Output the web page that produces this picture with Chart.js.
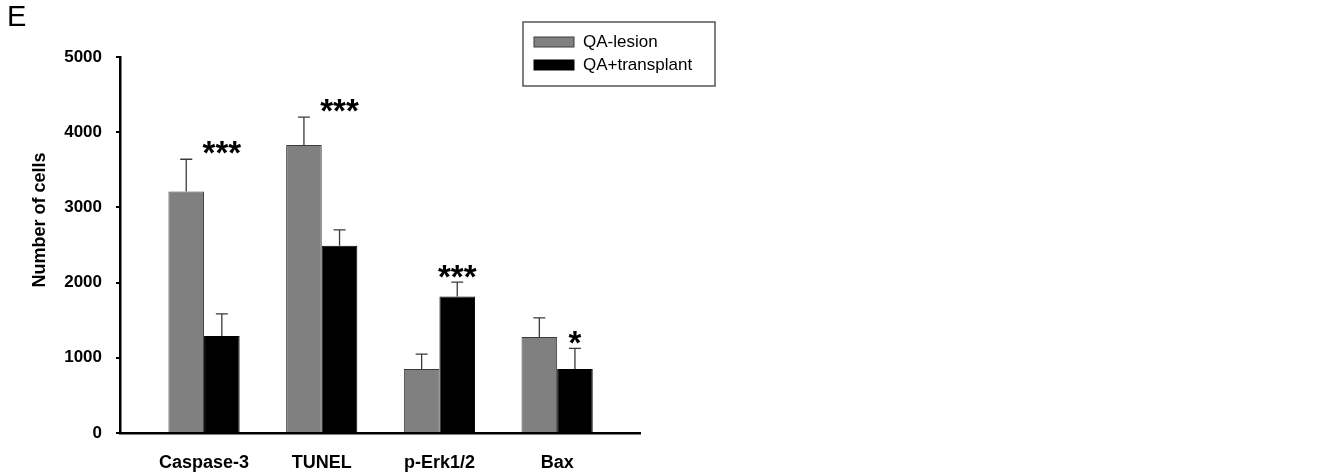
<!DOCTYPE html>
<html>
<head>
<meta charset="utf-8">
<script src="https://cdn.jsdelivr.net/npm/chart.js@4.4.1/dist/chart.umd.min.js"></script>
<style>
  html, body { margin: 0; padding: 0; background: #fff; }
  #wrap { width: 1324px; height: 475px; }
</style>
</head>
<body>
<div id="wrap"><canvas id="cellsChart" width="1324" height="475"></canvas></div>
<script>
'use strict';

// data
var categories = ['Caspase-3', 'TUNEL', 'p-Erk1/2', 'Bax'];
var lesion = [3210, 3830, 850, 1275];
var lesionErr = [430, 370, 200, 255];
var transplant = [1290, 2490, 1815, 850];
var transplantErr = [295, 210, 190, 275];
var stars = ['***', '***', '***', '*'];
var starLevel = [3790, 4350, 2145, 1265];
var yTicks = [0, 1000, 2000, 3000, 4000, 5000];

var FONT = "'Liberation Sans', Arial, sans-serif";

function indexed(arr) {
    return arr.map(function (v, i) { return { x: i, y: v }; });
}

// error bars, stars, panel letter, axis title and boxed legend
var extras = {
    id: 'extras',
    afterDatasetsDraw: function (chart) {
        var ctx = chart.ctx;
        var y = chart.scales.y;
        var errs = [lesionErr, transplantErr];
        ctx.save();
        ctx.strokeStyle = '#3a3a3a';
        ctx.lineWidth = 1.3;
        chart.data.datasets.forEach(function (ds, d) {
            chart.getDatasetMeta(d).data.forEach(function (bar, i) {
                var top = y.getPixelForValue(ds.data[i].y + errs[d][i]);
                ctx.beginPath();
                ctx.moveTo(bar.x, bar.y);
                ctx.lineTo(bar.x, top);
                ctx.moveTo(bar.x - 6, top);
                ctx.lineTo(bar.x + 6, top);
                ctx.stroke();
            });
        });

        // significance stars over the transplant bars
        ctx.fillStyle = '#000';
        ctx.font = 'bold 33px ' + FONT;
        ctx.textAlign = 'center';
        ctx.textBaseline = 'alphabetic';
        var black = chart.getDatasetMeta(1).data;
        stars.forEach(function (s, i) {
            var m = ctx.measureText(s);
            var yc = y.getPixelForValue(starLevel[i]);
            var base = yc - (m.actualBoundingBoxDescent - m.actualBoundingBoxAscent) / 2;
            ctx.fillText(s, black[i].x, base);
        });

        // panel letter
        ctx.textAlign = 'left';
        ctx.font = '29px ' + FONT;
        ctx.fillText('E', 7, 26);

        // y axis title
        ctx.save();
        ctx.translate(40, 220);
        ctx.rotate(-Math.PI / 2);
        ctx.textAlign = 'center';
        ctx.textBaseline = 'middle';
        ctx.font = 'bold 18px ' + FONT;
        ctx.fillText('Number of cells', 0, 0);
        ctx.restore();

        // legend
        var lx = 523, ly = 22, lw = 192, lh = 64;
        ctx.lineWidth = 1.5;
        ctx.strokeStyle = '#555';
        ctx.strokeRect(lx, ly, lw, lh);
        ctx.font = '17px ' + FONT;
        ctx.textBaseline = 'middle';
        chart.data.datasets.forEach(function (ds, d) {
            var sy = ly + 15 + d * 23;
            ctx.fillStyle = ds.backgroundColor;
            ctx.fillRect(lx + 11, sy, 40, 10);
            ctx.lineWidth = 1;
            ctx.strokeStyle = ds.borderColor;
            ctx.strokeRect(lx + 11, sy, 40, 10);
            ctx.fillStyle = '#000';
            ctx.fillText(ds.label, lx + 60, sy + 5.5);
        });
        ctx.restore();
    }
};

var ctx1 = document.getElementById('cellsChart').getContext('2d');
var chart1 = new Chart(ctx1, {
    type: 'bar',
    data: {
        datasets: [{
            label: 'QA-lesion',
            data: indexed(lesion),
            backgroundColor: '#808080',
            borderColor: '#3c3c3c',
            borderWidth: 1,
            barPercentage: 1,
            categoryPercentage: 0.605
        }, {
            label: 'QA+transplant',
            data: indexed(transplant),
            backgroundColor: '#000000',
            borderColor: '#000000',
            borderWidth: 1,
            barPercentage: 1,
            categoryPercentage: 0.605
        }]
    },
    options: {
        responsive: false,
        animation: false,
        layout: { padding: { left: 0, right: 684, top: 57, bottom: 0 } },
        plugins: {
            legend: { display: false },
            tooltip: { enabled: false }
        },
        scales: {
            x: {
                type: 'linear',
                offset: false,
                min: -0.714,
                max: 3.704,
                afterBuildTicks: function (scale) {
                    scale.ticks = categories.map(function (c, i) { return { value: i }; });
                },
                afterFit: function (scale) { scale.height = 42; },
                grid: { display: false },
                border: { display: true, color: '#000', width: 2.5 },
                ticks: {
                    autoSkip: false,
                    maxRotation: 0,
                    padding: 11,
                    color: '#000',
                    font: { family: FONT, size: 18, weight: 'bold' },
                    callback: function (v) { return categories[v]; }
                }
            },
            y: {
                min: 0,
                max: 5000,
                afterBuildTicks: function (scale) {
                    scale.ticks = yTicks.map(function (v) { return { value: v }; });
                },
                afterFit: function (scale) { scale.width = 120; },
                grid: { drawOnChartArea: false, drawTicks: true, tickLength: 4, color: '#000', lineWidth: 2 },
                border: { display: true, color: '#000', width: 2.5 },
                ticks: {
                    padding: 14,
                    color: '#000',
                    font: { family: FONT, size: 17, weight: 'bold' },
                    callback: function (v) { return String(v); }
                }
            }
        }
    },
    plugins: [extras]
});
</script>
</body>
</html>
